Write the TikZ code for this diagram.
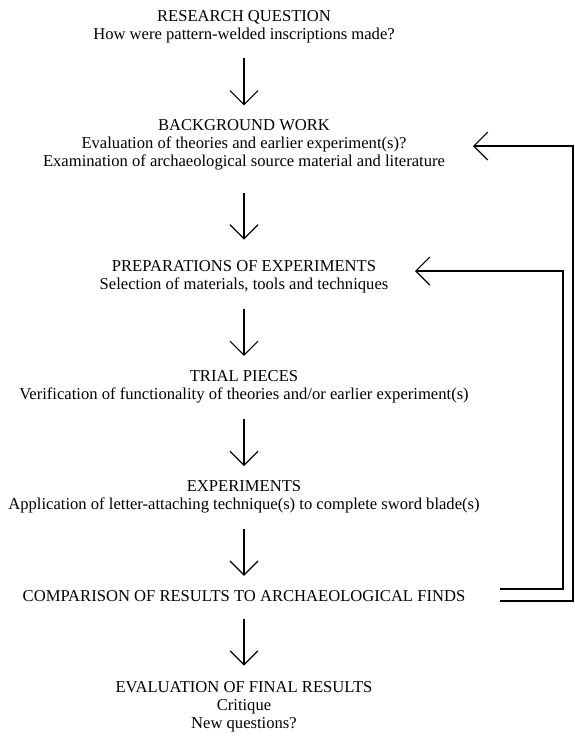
\documentclass[tikz,border=0pt]{standalone}
\usepackage{fontspec}
\setmainfont{Liberation Serif}
\usetikzlibrary{arrows.meta,calc}

\begin{document}
\begin{tikzpicture}[x=1pt, y=-1pt, >={Straight Barb[length=14pt,width=28pt]},
  stage/.style={align=center, inner sep=0pt, font=\fontsize{16.6}{18}\selectfont},
  flow/.style={->, line width=1.2pt},
  loop/.style={->, line width=1.2pt}]
\useasboundingbox (0,0) rectangle (574,740);
% stages of the method
\node[stage] (rq)   at (244,27)  {RESEARCH QUESTION\\How were pattern-welded inscriptions made?};
\node[stage] (bg)   at (244,145) {BACKGROUND WORK\\Evaluation of theories and earlier experiment(s)?\\Examination of archaeological source material and literature};
\node[stage] (prep) at (244,277) {PREPARATIONS OF EXPERIMENTS\\Selection of materials, tools and techniques};
\node[stage] (tp)   at (244,387) {TRIAL PIECES\\Verification of functionality of theories and/or earlier experiment(s)};
\node[stage] (exp)  at (244,497) {EXPERIMENTS\\Application of letter-attaching technique(s) to complete sword blade(s)};
\node[stage] (cmp)  at (244,596) {COMPARISON OF RESULTS TO ARCHAEOLOGICAL FINDS};
\node[stage] (ev)   at (244,707) {EVALUATION OF FINAL RESULTS\\Critique\\New questions?};
% downward arrows, centred in the gaps
\foreach \a/\b in {rq/bg, bg/prep, prep/tp, tp/exp, exp/cmp, cmp/ev}{
  \draw[flow] ($(\a.south)!0.5!(\b.north)+(0,-23)$) -- ++(0,47);
}
% feedback loops
\coordinate (bgin)   at (473,146);
\coordinate (prepin) at (415,271);
\coordinate (outer)  at (500,601);
\coordinate (inner)  at (500,589);
\draw[loop] (inner) -- (563,589) |- (prepin);
\draw[loop] (outer) -- (573,601) |- (bgin);
\end{tikzpicture}
\end{document}
